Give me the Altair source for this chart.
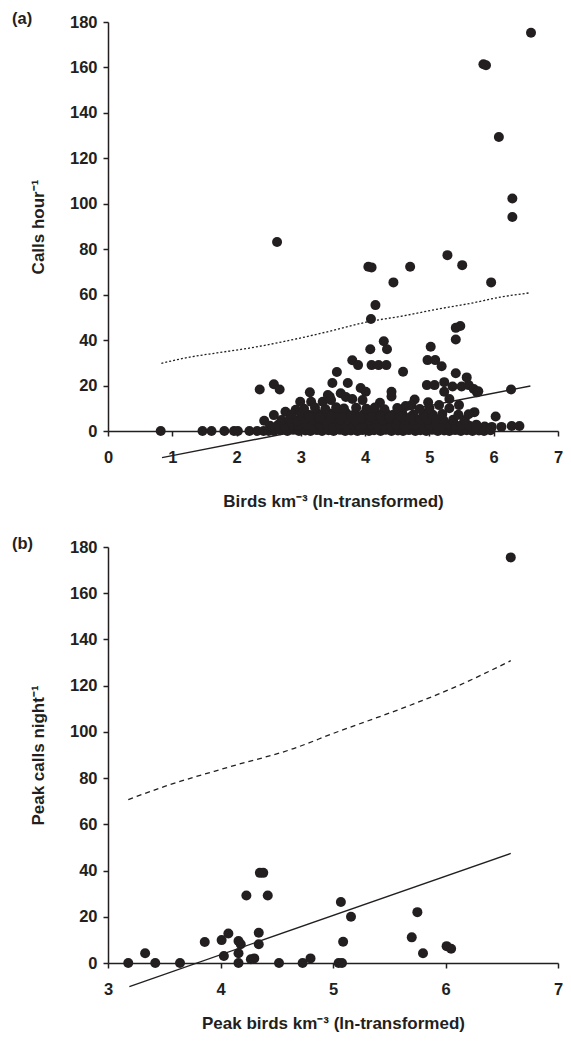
import altair as alt
import pandas as pd

INK = "#231f20"
FONT = "Liberation Sans"

# ---------------- Panel (a): calls per hour vs birds km^-3 ----------------
a_x = [
    # sparse / outlying points
    6.58, 5.84, 5.88, 6.08, 6.29, 6.29, 2.63, 4.05, 4.10, 4.70, 5.28, 5.51, 5.96, 4.44,
    4.16, 4.09, 5.41, 5.48, 5.41, 4.29, 4.08, 4.34, 5.02, 3.80, 3.89, 4.10, 4.21, 4.33,
    4.97, 5.09, 5.19, 4.59, 3.56, 5.41, 5.58, 3.49, 3.73, 3.93, 4.01, 4.41, 4.41, 4.96,
    5.08, 5.23, 5.36, 5.50, 5.61, 5.69, 5.76, 5.23, 6.27, 2.36, 2.58, 2.67, 3.14, 3.16,
    2.99, 3.34, 3.45, 3.62, 3.70, 3.80, 3.42, 3.47, 3.96, 4.23, 4.77, 4.63, 4.72, 4.98,
    5.31, 5.15, 5.46, 5.31, 5.70, 6.03, 5.74, 2.43, 2.58, 2.76, 2.92,
    5.86, 5.97, 6.12, 6.28, 6.40,
    0.82, 1.47, 1.61, 1.81, 1.96, 2.02, 2.20, 2.32, 2.42, 2.50,
    # dense mass near zero
    2.58, 2.68, 2.79, 2.88, 2.97, 3.07, 3.15, 3.25, 3.33, 3.43, 3.51, 3.61, 3.69, 3.78,
    3.88, 3.96, 4.06, 4.14, 4.24, 4.32, 4.41, 4.51, 4.59, 4.68, 4.78, 4.86, 4.95, 5.04,
    5.13, 5.23, 5.31, 5.40, 5.49, 5.58, 5.67, 5.77, 5.85, 5.95,
    2.52, 2.65, 2.75, 2.87, 2.96, 3.08, 3.19, 3.29, 3.41, 3.50, 3.61, 3.70, 3.81, 3.90,
    4.01, 4.10, 4.19, 4.31, 4.40, 4.49, 4.61, 4.70, 4.79, 4.91, 5.00, 5.11, 5.19, 5.30,
    5.41, 5.50, 5.62, 5.73,
    2.70, 2.83, 2.94, 3.06, 3.18, 3.30, 3.39, 3.52, 3.62, 3.73, 3.85, 3.94, 4.06, 4.18,
    4.27, 4.39, 4.51, 4.61, 4.74, 4.86, 4.97, 5.10, 5.22, 5.37, 5.55,
    2.86, 3.00, 3.12, 3.25, 3.35, 3.48, 3.60, 3.71, 3.84, 3.97, 4.08, 4.19, 4.33, 4.44,
    4.58, 4.75, 4.91, 5.05, 5.20, 5.45, 5.61,
    3.05, 3.22, 3.38, 3.55, 3.67, 3.86, 4.02, 4.15, 4.30, 4.50, 4.85, 5.00,
    3.13, 3.30, 3.47, 3.64, 3.78, 3.92, 4.10, 4.24, 4.38, 4.56, 4.70,
]
a_y = [
    175.3, 161.4, 161.0, 129.4, 102.3, 94.2, 83.2, 72.3, 72.0, 72.3, 77.4, 73.0, 65.4, 65.4,
    55.4, 49.3, 45.4, 46.2, 40.3, 39.5, 36.0, 36.0, 37.1, 31.1, 29.0, 29.0, 29.0, 29.0,
    31.2, 31.2, 28.5, 26.1, 26.0, 25.4, 23.6, 21.1, 21.1, 18.9, 17.3, 17.3, 15.2, 20.2,
    20.2, 21.5, 19.6, 19.6, 20.2, 18.5, 17.5, 17.3, 18.3, 18.3, 20.6, 18.3, 17.0, 12.9,
    12.9, 12.9, 15.1, 16.6, 15.0, 14.1, 15.8, 13.6, 13.6, 12.4, 13.9, 11.0, 11.4, 12.6,
    14.1, 11.4, 11.4, 10.0, 8.3, 6.4, 17.0, 4.5, 7.0, 8.5, 9.3,
    2.0, 1.8, 1.8, 2.2, 2.2,
    0.0, 0.0, 0.0, 0.0, 0.0, 0.0, 0.0, 0.0, 0.0, 0.0,
    0.0, 0.3, 0.0, 0.5, 0.0, 0.2, 0.0, 0.4, 0.0, 0.3, 0.0, 0.5, 0.0, 0.2,
    0.0, 0.4, 0.0, 0.3, 0.0, 0.5, 0.0, 0.2, 0.0, 0.4, 0.0, 0.3, 0.0, 0.5,
    0.0, 0.2, 0.0, 0.4, 0.0, 0.3, 0.0, 0.2, 0.0, 0.3,
    2.3, 2.8, 2.2, 2.9, 2.4, 2.7, 2.2, 2.9, 2.5, 2.3, 2.8, 2.4, 2.9, 2.2,
    2.7, 2.5, 2.3, 2.8, 2.4, 2.9, 2.2, 2.6, 2.8, 2.3, 2.5, 2.7, 2.2, 2.9,
    2.4, 2.6, 2.3, 2.8,
    4.8, 5.3, 4.6, 5.4, 4.9, 5.2, 4.7, 5.5, 4.8, 5.1, 4.6, 5.4, 4.9, 5.2,
    4.7, 5.3, 4.8, 5.0, 4.6, 5.2, 4.9, 5.3, 4.7, 5.0, 4.8,
    7.3, 7.8, 7.2, 7.9, 7.4, 7.7, 7.2, 7.8, 7.5, 7.3, 7.9, 7.4, 7.6, 7.2,
    7.7, 7.3, 7.6, 7.2, 7.5, 7.1, 7.4,
    9.8, 10.3, 9.7, 10.4, 9.9, 10.2, 9.8, 10.3, 9.6, 10.1, 9.7, 10.0,
    6.2, 6.0, 6.4, 6.1, 6.3, 6.0, 6.2, 6.4, 6.1, 6.3, 6.0,
]
a_fit_x = [0.84, 6.57]
a_fit_y = [-11.7, 19.8]
a_up_x = [0.83, 1.25, 1.70, 2.20, 2.94, 3.55, 4.00, 4.60, 5.10, 5.66, 6.10, 6.56]
a_up_y = [29.8, 32.4, 34.4, 36.5, 40.6, 44.6, 47.8, 50.7, 53.5, 56.3, 58.9, 60.8]

# ---------------- Panel (b): peak calls per night vs peak birds ----------------
b_x = [3.18, 3.33, 3.42, 3.64, 3.86, 4.01, 4.07, 4.03, 4.16, 4.18, 4.16, 4.16, 4.23,
       4.27, 4.30, 4.34, 4.34, 4.35, 4.38, 4.42, 4.52, 4.73, 4.80, 5.05, 5.08, 5.07,
       5.16, 5.09, 5.70, 5.75, 5.80, 6.01, 6.05, 6.58]
b_y = [0.0, 4.2, 0.0, 0.0, 9.1, 9.9, 12.8, 3.0, 9.5, 8.1, 4.2, 0.0, 29.2,
       1.6, 2.0, 13.1, 8.1, 39.0, 39.0, 29.2, 0.0, 0.0, 2.0, 0.0, 0.0, 26.4,
       20.0, 9.2, 11.1, 22.0, 4.2, 7.3, 6.2, 175.5]
b_fit_x = [3.19, 6.58]
b_fit_y = [-10.2, 47.4]
b_up_x = [3.18, 3.51, 4.09, 4.65, 5.00, 5.68, 6.10, 6.58]
b_up_y = [70.7, 76.5, 85.0, 92.8, 99.3, 111.4, 119.7, 130.8]


def panel(px, py, fx, fy, ux, uy, dash, xdom, xvals, xtitle, ytitle, tag, w, h, tpad):
    xenc = alt.X("x:Q", scale=alt.Scale(domain=xdom, nice=False, zero=False),
                 axis=alt.Axis(values=xvals, title=xtitle, labelFlush=False,
                               labelPadding=13, titlePadding=tpad, format="d"))
    yenc = alt.Y("y:Q", scale=alt.Scale(domain=[0, 180], nice=False),
                 axis=alt.Axis(values=list(range(0, 181, 20)), title=ytitle,
                               labelPadding=6, titlePadding=22))
    pts = alt.Chart(pd.DataFrame({"x": px, "y": py})).mark_circle(
        size=100, color=INK, opacity=1).encode(x=xenc, y=yenc)
    fit = alt.Chart(pd.DataFrame({"x": fx, "y": fy})).mark_line(
        color=INK, strokeWidth=1.4, clip=False).encode(x=xenc, y=yenc)
    up = alt.Chart(pd.DataFrame({"x": ux, "y": uy})).mark_line(
        color=INK, strokeWidth=1.3, strokeDash=dash, interpolate="monotone").encode(x=xenc, y=yenc)
    lab = alt.Chart(pd.DataFrame({"t": [tag]})).mark_text(
        align="left", baseline="middle", font=FONT, fontSize=16.5, fontWeight="bold",
        color=INK).encode(x=alt.value(-96), y=alt.value(-3), text="t:N")
    return alt.layer(up, fit, pts, lab).properties(width=w, height=h)


pa = panel(a_x, a_y, a_fit_x, a_fit_y, a_up_x, a_up_y, [2, 2], [0, 7], list(range(0, 8)),
           "Birds km⁻³ (ln-transformed)", "Calls hour⁻¹", "(a)", 450, 409, 28)
pb = panel(b_x, b_y, b_fit_x, b_fit_y, b_up_x, b_up_y, [5, 4], [3, 7], [3, 4, 5, 6, 7],
           "Peak birds km⁻³ (ln-transformed)", "Peak calls night⁻¹", "(b)", 450, 416, 18)

chart = alt.vconcat(pa, pb, spacing=26).properties(
    padding={"top": 3, "left": 4, "right": 0, "bottom": 0}
).configure_view(stroke=None).configure_axis(
    grid=False, domainColor=INK, domainWidth=1.5, tickColor=INK, tickWidth=1.5, tickSize=5,
    labelFont=FONT, labelFontSize=16.5, labelFontWeight="bold", labelColor=INK,
    titleFont=FONT, titleFontSize=17, titleFontWeight="bold", titleColor=INK,
)

chart.save("out.html", embed_options={"renderer": "svg", "actions": False})
